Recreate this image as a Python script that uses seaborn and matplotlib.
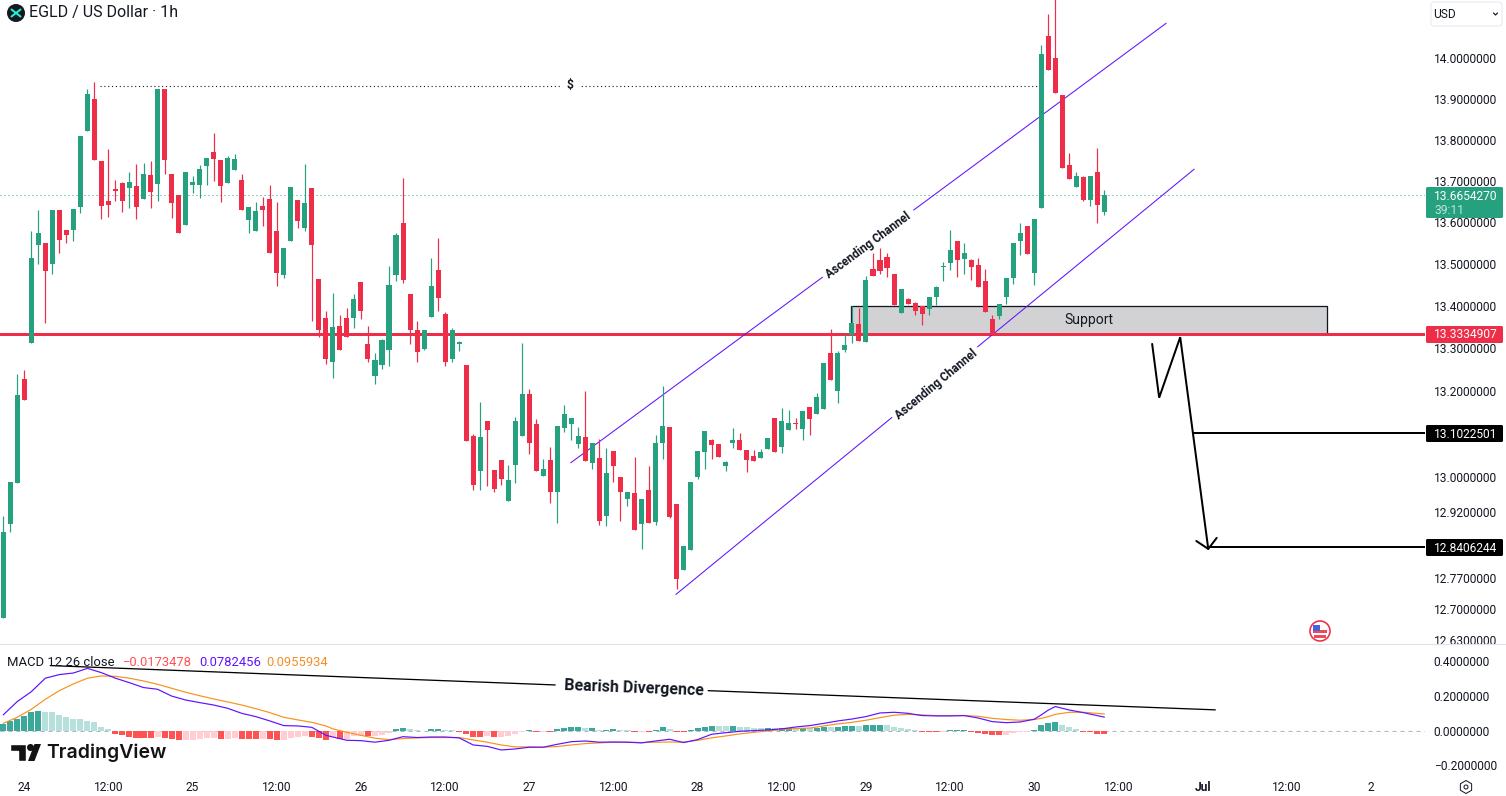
"""EGLD / USD 1h candles with MACD pane, TradingView style."""
import matplotlib.pyplot as plt
import numpy as np
import seaborn as sns
from matplotlib.patches import Circle, FancyBboxPatch, Polygon, Rectangle, RegularPolygon
from matplotlib.ticker import FixedLocator, NullLocator

# hourly candles, index 0 is 24 Jun 00:00
first_candle = -3
opens = [
    12.679, 12.892, 12.986, 13.228, 13.312, 13.544, 13.551, 13.499, 13.629, 13.582,
    13.580, 13.636, 13.821, 13.899, 13.748, 13.651, 13.680, 13.694, 13.682, 13.687,
    13.655, 13.714, 13.692, 13.924, 13.716, 13.665, 13.592, 13.689, 13.689, 13.736,
    13.769, 13.750, 13.694, 13.726, 13.701, 13.604, 13.578, 13.639, 13.655, 13.578,
    13.473, 13.554, 13.653, 13.585, 13.682, 13.463, 13.371, 13.267, 13.352, 13.371,
    13.371, 13.456, 13.310, 13.235, 13.260, 13.296, 13.473, 13.597, 13.428, 13.343,
    13.298, 13.374, 13.485, 13.381, 13.274, 13.310, 13.260, 13.095, 13.015, 13.130,
    13.017, 13.040, 12.945, 13.028, 13.095, 13.193, 13.123, 13.003, 13.040, 12.965,
    13.114, 13.123, 13.077, 13.093, 13.033, 13.045, 12.911, 13.061, 13.000, 12.951,
    12.963, 12.892, 12.970, 12.897, 13.079, 13.117, 12.938, 12.788, 12.834, 13.000,
    13.058, 13.086, 13.077, 13.026, 13.079, 13.086, 13.063, 13.049, 13.045, 13.065,
    13.137, 13.070, 13.110, 13.126, 13.112, 13.163, 13.147, 13.158, 13.289, 13.200,
    13.296, 13.331, 13.357, 13.314, 13.487, 13.509, 13.516, 13.475, 13.383, 13.416,
    13.407, 13.400, 13.393, 13.421, 13.492, 13.501, 13.554, 13.511, 13.509, 13.497,
    13.459, 13.369, 13.376, 13.421, 13.466, 13.554, 13.590, 13.478, 13.634, 14.054,
    14.000, 13.909, 13.738, 13.684, 13.709, 13.653, 13.721, 13.624,
]
highs = [
    12.911, 12.990, 13.240, 13.249, 13.578, 13.629, 13.551, 13.629, 13.629, 13.582,
    13.631, 13.808, 13.924, 13.941, 13.748, 13.777, 13.701, 13.696, 13.721, 13.740,
    13.743, 13.748, 13.924, 13.924, 13.716, 13.665, 13.721, 13.711, 13.738, 13.755,
    13.816, 13.750, 13.760, 13.765, 13.716, 13.636, 13.648, 13.660, 13.689, 13.648,
    13.539, 13.684, 13.653, 13.740, 13.682, 13.463, 13.388, 13.430, 13.378, 13.395,
    13.428, 13.456, 13.352, 13.289, 13.321, 13.494, 13.575, 13.706, 13.428, 13.364,
    13.343, 13.513, 13.561, 13.385, 13.348, 13.317, 13.260, 13.100, 13.174, 13.130,
    13.017, 13.040, 13.028, 13.140, 13.312, 13.204, 13.135, 13.042, 13.070, 13.119,
    13.167, 13.137, 13.117, 13.200, 13.079, 13.088, 13.068, 13.061, 13.000, 12.965,
    13.047, 12.951, 13.026, 13.098, 13.211, 13.117, 12.938, 12.842, 12.988, 13.061,
    13.107, 13.088, 13.077, 13.038, 13.114, 13.103, 13.063, 13.063, 13.065, 13.091,
    13.137, 13.160, 13.156, 13.137, 13.154, 13.163, 13.195, 13.265, 13.345, 13.293,
    13.333, 13.400, 13.395, 13.471, 13.525, 13.539, 13.525, 13.475, 13.440, 13.419,
    13.409, 13.400, 13.421, 13.447, 13.504, 13.582, 13.554, 13.549, 13.511, 13.513,
    13.487, 13.378, 13.404, 13.466, 13.551, 13.597, 13.590, 13.607, 14.032, 14.109,
    14.160, 13.909, 13.767, 13.721, 13.711, 13.711, 13.779, 13.677,
]
lows = [
    12.679, 12.874, 12.986, 13.179, 13.312, 13.499, 13.359, 13.475, 13.527, 13.551,
    13.554, 13.621, 13.821, 13.750, 13.607, 13.612, 13.651, 13.624, 13.634, 13.607,
    13.655, 13.634, 13.651, 13.716, 13.609, 13.573, 13.592, 13.670, 13.658, 13.689,
    13.699, 13.648, 13.694, 13.726, 13.629, 13.575, 13.578, 13.590, 13.527, 13.447,
    13.466, 13.554, 13.587, 13.578, 13.364, 13.326, 13.263, 13.230, 13.296, 13.326,
    13.348, 13.369, 13.268, 13.216, 13.251, 13.258, 13.459, 13.454, 13.310, 13.268,
    13.296, 13.374, 13.388, 13.258, 13.268, 13.293, 13.084, 12.970, 12.970, 12.979,
    12.965, 12.981, 12.945, 12.986, 13.095, 13.054, 13.015, 13.003, 12.940, 12.895,
    13.105, 13.086, 13.068, 13.038, 13.019, 12.890, 12.888, 12.988, 12.899, 12.933,
    12.879, 12.836, 12.895, 12.890, 13.042, 12.906, 12.746, 12.788, 12.834, 12.995,
    13.019, 13.042, 13.047, 13.015, 13.068, 13.063, 13.012, 13.038, 13.045, 13.065,
    13.058, 13.056, 13.110, 13.112, 13.086, 13.098, 13.147, 13.158, 13.226, 13.172,
    13.291, 13.312, 13.317, 13.314, 13.471, 13.475, 13.468, 13.402, 13.383, 13.404,
    13.378, 13.355, 13.378, 13.402, 13.459, 13.485, 13.468, 13.475, 13.461, 13.444,
    13.385, 13.331, 13.369, 13.404, 13.451, 13.520, 13.523, 13.449, 13.634, 13.970,
    13.914, 13.731, 13.704, 13.684, 13.651, 13.639, 13.597, 13.616,
]
closes = [
    12.874, 12.988, 13.190, 13.179, 13.513, 13.575, 13.483, 13.629, 13.558, 13.568,
    13.631, 13.808, 13.911, 13.750, 13.639, 13.641, 13.675, 13.651, 13.696, 13.636,
    13.716, 13.672, 13.924, 13.750, 13.646, 13.573, 13.721, 13.696, 13.728, 13.755,
    13.752, 13.687, 13.755, 13.752, 13.629, 13.636, 13.626, 13.629, 13.527, 13.478,
    13.537, 13.684, 13.602, 13.646, 13.546, 13.343, 13.275, 13.350, 13.296, 13.326,
    13.416, 13.388, 13.274, 13.272, 13.319, 13.449, 13.570, 13.461, 13.343, 13.291,
    13.343, 13.447, 13.419, 13.268, 13.343, 13.314, 13.084, 12.981, 13.093, 13.110,
    12.972, 12.995, 12.993, 13.130, 13.193, 13.079, 13.015, 13.019, 12.967, 13.119,
    13.147, 13.137, 13.095, 13.038, 13.079, 12.899, 13.010, 13.026, 12.965, 12.965,
    12.879, 12.951, 12.895, 13.079, 13.119, 12.908, 12.768, 12.842, 12.988, 13.061,
    13.107, 13.075, 13.047, 13.035, 13.086, 13.063, 13.040, 13.038, 13.058, 13.091,
    13.058, 13.130, 13.126, 13.123, 13.154, 13.135, 13.186, 13.265, 13.226, 13.289,
    13.307, 13.359, 13.317, 13.461, 13.471, 13.483, 13.490, 13.402, 13.440, 13.404,
    13.388, 13.381, 13.421, 13.444, 13.494, 13.532, 13.509, 13.527, 13.492, 13.444,
    13.385, 13.331, 13.404, 13.466, 13.551, 13.573, 13.523, 13.607, 14.010, 13.970,
    13.914, 13.731, 13.704, 13.711, 13.653, 13.711, 13.641, 13.665,
]

# MACD histogram for the same candles, d = strong colour, l = pale colour
macd_hist = [
    .041, .054, .069, .083, .106, .112, .106, .106, .089, .077,
    .066, .066, .058, .048, .023, .008, -.017, -.027, -.039, -.042,
    -.042, -.042, -.035, -.042, -.046, -.056, -.056, -.056, -.048, -.042,
    -.042, -.050, -.050, -.042, -.046, -.050, -.050, -.050, -.050, -.056,
    -.056, -.044, -.039, -.033, -.039, -.044, -.056, -.035, -.050, -.046,
    -.031, -.031, -.031, -.029, -.025, -.014, .010, .015, .010, .004,
    -.004, .010, .008, .004, .002, -.008, -.019, -.037, -.037, -.029,
    -.037, -.037, -.029, -.017, -.006, .004, -.008, -.008, -.008, .010,
    .017, .021, .021, .015, .015, .002, .004, .008, .002, .002,
    -.008, -.008, -.008, .006, .019, .008, -.008, -.008, .004, .015,
    .021, .027, .027, .027, .027, .019, .019, .015, .015, .015,
    .014, .015, .015, .015, .015, .014, .017, .021, .021, .021,
    .027, .027, .027, .033, .033, .033, .033, .021, .015, .010,
    .004, -.008, -.008, -.008, -.008, .004, .004, .004, -.008, -.015,
    -.021, -.027, -.027, -.027, -.015, -.010, -.010, .004, .033, .046,
    .052, .035, .021, .008, -.008, -.008, -.021, -.0173,
]
hist_shade = (
    "ddddddllll" "lllllldddd" "ddldddllll" "ldlldddldd" "lllldddldl"
    "lldlllddll" "dddllddddl" "dllllddldd" "dddldlddll" "dldddldddd"
    "ddlldlllld" "lddldlddld" "ddldddllll" "ldddlddddd" "dddllllddd" "dllldddd"
)

macd_x = list(range(-3, 44, 2)) + list(range(44, 143, 2)) + [144, 145, 146, 147, 149, 151, 154]
macd_line = [
    .091, .168, .225, .303, .324, .333, .360, .335, .303, .277, .249, .239,
    .200, .177, .162, .148, .129, .100, .081, .056, .029, .027, .019, -.027,
    -.037, -.056, -.058, -.067, -.056, -.035, -.040, -.037, -.037, -.042,
    -.083, -.091, -.112, -.106, -.096, -.096, -.079, -.064, -.060, -.067,
    -.066, -.067, -.071, -.060, -.050, -.069, -.052, -.021, -.012, -.004,
    0, .004, .010, .021, .029, .042, .056, .067, .081, .102, .106, .100,
    .087, .085, .085, .087, .073, .052, .046, .050,
    .066, .091, .119, .139, .119, .104, .078,
]
signal_line = [
    .042, .077, .123, .181, .231, .270, .303, .316, .314, .303, .287, .268,
    .245, .222, .202, .183, .166, .148, .127, .104, .077, .062, .048, .027,
    .010, -.010, -.027, -.044, -.052, -.046, -.042, -.040, -.040, -.040,
    -.054, -.067, -.083, -.094, -.094, -.096, -.092, -.083, -.075, -.071,
    -.067, -.067, -.069, -.067, -.066, -.067, -.056, -.042, -.031, -.019,
    -.010, -.002, .006, .012, .015, .027, .039, .048, .060, .075, .089, .094,
    .091, .087, .087, .087, .083, .071, .064, .060,
    .064, .071, .081, .094, .106, .106, .096,
]

price_ticks = [14.0, 13.9, 13.8, 13.7, 13.6, 13.5, 13.4, 13.3, 13.2, 13.1, 13.0, 12.92, 12.77, 12.7, 12.63]
macd_ticks = [0.4, 0.2, 0.0, -0.2]
time_ticks = [0, 12, 24, 36, 48, 60, 72, 84, 96, 108, 120, 132, 144, 156, 168, 180, 192]
time_labels = ["24", "12:00", "25", "12:00", "26", "12:00", "27", "12:00", "28", "12:00",
               "29", "12:00", "30", "12:00", "Jul", "12:00", "2"]

last_price = 13.6654270
support_price = 13.3334907
support_top = 13.399
target_one = 13.1022501
target_two = 12.8406244
swing_high = 13.932

# drawings as (candle index, price)
channel_upper = [(77.9, 13.033), (113.8, 13.468), (126.8, 13.629), (162.8, 14.087)]
channel_lower = [(92.9, 12.733), (123.7, 13.138), (135.9, 13.303), (166.8, 13.728)]
path_x = [160.8, 161.8, 164.8, 168.8]
path_y = [13.310, 13.184, 13.326, 12.836]
head_x = [167.1, 168.8, 170.0]
head_y = [12.854, 12.836, 12.861]
divergence = [(3.7, .376), (75.7, .264), (97.5, .231), (169.8, .120)]

GREEN = "#26a17f"
RED = "#ee2e48"
INK = "#131722"
PURPLE = "#5f14ff"
ORANGE = "#f7931e"
BAR_COLORS = {"up_d": "#3aa99c", "up_l": "#b6e0dc", "dn_d": "#ff5252", "dn_l": "#ffcdd2"}

sns.set_theme(style="white")
plt.rcParams["font.family"] = ["Roboto", "DejaVu Sans"]


def px(size):
    return size * 0.72


W, H = 1506, 796
PANE_W, PRICE_B, MACD_B = 1425, 644, 771
fig = plt.figure(figsize=(W / 100, H / 100), dpi=100, facecolor="white")
ax = fig.add_axes([0, 1 - PRICE_B / H, PANE_W / W, PRICE_B / H])
ax_macd = fig.add_axes([0, 1 - MACD_B / H, PANE_W / W, (MACD_B - PRICE_B - 1) / H])
ui = fig.add_axes([0, 0, 1, 1], zorder=10)
ui.set_xlim(0, W)
ui.set_ylim(H, 0)
ui.axis("off")

# price pane
ax.set_yscale("log")
idx = np.arange(first_candle, first_candle + len(opens))
o, h, l, c = map(np.array, (opens, highs, lows, closes))
colors = np.where(c >= o, GREEN, RED)
ax.add_patch(Rectangle((117.9, support_price), 185.7 - 117.9, support_top - support_price,
                       facecolor="#d2d2d5", edgecolor=INK, lw=px(1.3), zorder=1))
ax.axhline(support_price, color=RED, lw=px(3), zorder=2)
ax.axhline(last_price, color=GREEN, lw=px(1), ls=(0, (1, 3)), zorder=2)
ax.plot([10.8, 145], [swing_high, swing_high], color=INK, lw=px(1.1), ls=(0, (1, 2.5)), zorder=2)
ax.plot([76.7, 78.9], [swing_high, swing_high], color="white", lw=px(4), zorder=2.1)
for line in (channel_upper, channel_lower):
    for (x0, y0), (x1, y1) in (line[:2], line[2:]):
        ax.plot([x0, x1], [y0, y1], color=PURPLE, lw=px(1.05), zorder=3)
ax.plot([166.6, 204], [target_one, target_one], color="black", lw=px(2), zorder=3)
ax.plot([169, 204], [target_two, target_two], color="black", lw=px(2), zorder=3)
ax.plot(path_x, path_y, color="black", lw=px(2), zorder=3, solid_joinstyle="miter")
ax.plot(head_x, head_y, color="black", lw=px(2), zorder=3)
ax.vlines(idx, l, h, colors=colors, lw=px(1.2), zorder=4)
ax.bar(idx, np.maximum(np.abs(c - o), 0.0025), bottom=np.minimum(o, c), width=0.72,
       color=colors, linewidth=0, zorder=5)

ax.set_xlim(-3.46, 199.7)
ax.set_ylim(12.6219, 14.145)
ax.xaxis.set_major_locator(NullLocator())
ax.yaxis.tick_right()
ax.yaxis.set_major_locator(FixedLocator(price_ticks))
ax.yaxis.set_minor_locator(NullLocator())
ax.set_yticklabels([f"{v:.7f}" for v in price_ticks])
ax.tick_params(axis="y", length=0, pad=6.2, labelsize=px(12), labelcolor=INK)
sns.despine(ax=ax, left=True, bottom=True, right=True, top=True)

ax.text(151.85, 13.367, "Support", color=INK, fontsize=px(14), ha="center", va="center", zorder=6)
ax.text(120.3, 13.545, "Ascending Channel", color=INK, fontsize=px(11.8), fontweight="bold",
        rotation=36.5, rotation_mode="anchor", ha="center", va="center", zorder=6)
ax.text(130, 13.215, "Ascending Channel", color=INK, fontsize=px(11.8), fontweight="bold",
        rotation=39.5, rotation_mode="anchor", ha="center", va="center", zorder=6)
ax.text(77.8, swing_high, "$", color=INK, fontsize=px(12), fontweight="bold", ha="center", va="center", zorder=6)

# macd pane
ax_macd.axhline(0, color="#b2b5be", lw=px(1), ls=(0, (4, 4)), zorder=0)
bar_kinds = [("up_" if v >= 0 else "dn_") + s for v, s in zip(macd_hist, hist_shade)]
ax_macd.bar(idx, macd_hist, width=0.86, color=[BAR_COLORS[k] for k in bar_kinds], linewidth=0, zorder=2)
sns.lineplot(x=macd_x, y=signal_line, color=ORANGE, lw=px(1.2), errorbar=None, ax=ax_macd, zorder=3)
sns.lineplot(x=macd_x, y=macd_line, color=PURPLE, lw=px(1.2), errorbar=None, ax=ax_macd, zorder=3)
for (x0, y0), (x1, y1) in (divergence[:2], divergence[2:]):
    ax_macd.plot([x0, x1], [y0, y1], color="black", lw=px(1.3), zorder=4)
ax_macd.text(86.9, .2475, "Bearish Divergence", color=INK, fontsize=px(16), fontweight="bold",
             rotation=-2.2, rotation_mode="anchor", ha="center", va="center", zorder=5)
ax_macd.set_xlim(-3.46, 199.7)
ax_macd.set_ylim(-.2335, .495)
ax_macd.set(xlabel="", ylabel="")
ax_macd.yaxis.tick_right()
ax_macd.set_yticks(macd_ticks)
ax_macd.set_yticklabels([f"{v:.7f}".replace("-", "\u2212") for v in macd_ticks])
ax_macd.set_xticks(time_ticks)
ax_macd.set_xticklabels(time_labels)
ax_macd.tick_params(axis="y", length=0, pad=6.2, labelsize=px(12), labelcolor=INK)
ax_macd.tick_params(axis="x", length=0, pad=7.2, labelsize=px(12), labelcolor=INK)
ax_macd.get_xticklabels()[time_labels.index("Jul")].set_fontweight("bold")
sns.despine(ax=ax_macd, left=True, bottom=True, right=True, top=True)

ui.text(7, 662, "MACD 12 26 close", color=INK, fontsize=px(13), va="center")
ui.text(123, 662, "\u22120.0173478", color="#ff5252", fontsize=px(13), va="center")
ui.text(199, 662, "0.0782456", color=PURPLE, fontsize=px(13), va="center")
ui.text(266, 662, "0.0955934", color="#f28e2b", fontsize=px(13), va="center")

# pane divider, hides the foot of the lowest price label
ui.add_patch(Rectangle((PANE_W, 644.5), W - PANE_W, 7, facecolor="white", edgecolor="none"))
ui.plot([0, W], [644, 644], color="#e0e3eb", lw=px(1.2))

# header
ui.add_patch(Circle((16, 13), 9, facecolor="#16191f", edgecolor="none"))
ui.plot([11.5, 20.5], [9.5, 16.5], color="#23f2d5", lw=px(2))
ui.plot([11.5, 20.5], [16.5, 9.5], color="#23f2d5", lw=px(2))
ui.text(29, 13, "EGLD / US Dollar \u00b7 1h", color=INK, fontsize=px(16), va="center")
ui.add_patch(FancyBboxPatch((1431, 2), 71, 24, boxstyle="round,pad=0,rounding_size=3",
                            facecolor="white", edgecolor="#e6e8ee", lw=px(1)))
ui.text(1433.5, 14, "USD", color=INK, fontsize=px(12), va="center")
ui.plot([1493.5, 1495.5, 1497.5], [13, 15, 13], color=INK, lw=px(1.2))

# price labels on the axis
for top, bottom, bg in [(187, 218, GREEN), (326, 343, RED), (425, 442, "black"), (539, 556, "black")]:
    ui.add_patch(FancyBboxPatch((1426, top), 77, bottom - top, boxstyle="round,pad=0,rounding_size=1.5",
                                facecolor=bg, edgecolor="none"))
ui.text(1434, 196, f"{last_price:.7f}", color="white", fontsize=px(12), va="center")
ui.text(1434, 210, "39:11", color="#bfe6da", fontsize=px(12), va="center")
ui.text(1434, 335, f"{support_price:.7f}", color="white", fontsize=px(12), va="center")
ui.text(1434, 434, f"{target_one:.7f}", color="white", fontsize=px(12), va="center")
ui.text(1434, 548, f"{target_two:.7f}", color="white", fontsize=px(12), va="center")

# TradingView mark
ui.add_patch(Polygon([(10, 744), (26, 744), (26, 761), (18, 761), (18, 751), (10, 751)], facecolor="#131313"))
ui.add_patch(Circle((30.5, 747.5), 3.5, facecolor="#131313", edgecolor="none"))
ui.add_patch(Polygon([(28, 761), (34.5, 744), (41, 744), (34.5, 761)], facecolor="#131313", edgecolor="none"))
ui.text(46.5, 752.5, "TradingView", color="#131313", fontsize=px(19.5), fontweight="semibold", va="center",
        family=["Inter", "Roboto"])

# economic calendar flag
ui.add_patch(Circle((1320, 631), 10, facecolor="white", edgecolor=RED, lw=px(1.6)))
ui.add_patch(Rectangle((1313, 630), 14, 3, facecolor="#ef4a55", edgecolor="none"))
ui.add_patch(Rectangle((1314, 635), 12, 2.5, facecolor="#ef4a55", edgecolor="none"))
ui.add_patch(Rectangle((1313, 625), 7, 6, facecolor="#4a5fe0", edgecolor="none"))

# settings glyph
ui.add_patch(RegularPolygon((1466, 787), 6, radius=6.5, facecolor="white", edgecolor=INK, lw=px(1)))
ui.add_patch(Circle((1466, 787), 2, facecolor="white", edgecolor=INK, lw=px(1)))

fig.savefig("out.png", dpi=100)
